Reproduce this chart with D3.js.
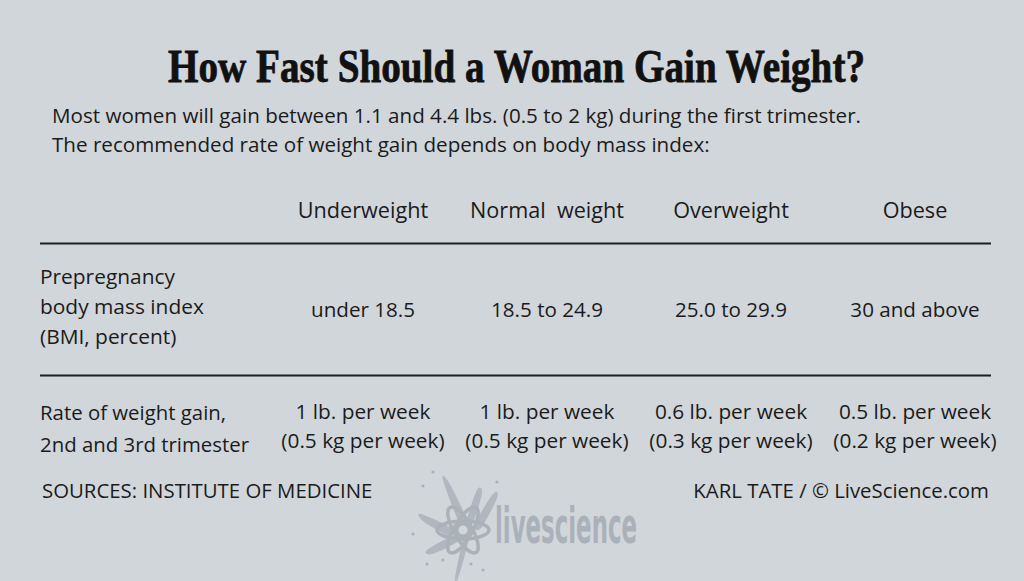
<!DOCTYPE html>
<html>
<head>
<meta charset="utf-8">
<script src="https://cdn.jsdelivr.net/npm/d3@7"></script>
<style>
  html, body { margin: 0; padding: 0; background: #d0d6da; }
  svg text { font-family: "Open Sans", "Noto Sans", sans-serif; fill: #1b1b1b; white-space: pre; }
</style>
</head>
<body>
<svg id="chart"></svg>
<script>
const WIDTH = 1024;
const HEIGHT = 581;

const title = "How Fast Should a Woman Gain Weight?";
const intro = [
  "Most women will gain between 1.1 and 4.4 lbs. (0.5 to 2 kg) during the first trimester.",
  "The recommended rate of weight gain depends on body mass index:"
];
const categories = ["Underweight", "Normal  weight", "Overweight", "Obese"];
const bmiRanges = ["under 18.5", "18.5 to 24.9", "25.0 to 29.9", "30 and above"];
const rateLbs = ["1 lb. per week", "1 lb. per week", "0.6 lb. per week", "0.5 lb. per week"];
const rateKg = ["(0.5 kg per week)", "(0.5 kg per week)", "(0.3 kg per week)", "(0.2 kg per week)"];
const bmiLabel = ["Prepregnancy", "body mass index", "(BMI, percent)"];
const rateLabel = ["Rate of weight gain,", "2nd and 3rd trimester"];
const sourceText = "SOURCES: INSTITUTE OF MEDICINE";
const creditText = "KARL TATE / \u00A9 LiveScience.com";

const svg = d3.select("#chart")
    .attr("width", WIDTH)
    .attr("height", HEIGHT);

svg.append("rect")
    .attr("width", WIDTH)
    .attr("height", HEIGHT)
    .attr("fill", "#d0d6da");

// column positions
const x = d3.scalePoint()
    .domain(categories)
    .range([363, 915]);

const LEFT = 40, RIGHT = 991;

// watermark logo (drawn first, sits behind text)
const logo = svg.append("g")
    .attr("class", "logo")
    .attr("transform", "translate(463,530)")
    .attr("fill", "#aab1b9")
    .attr("stroke", "#aab1b9");

const splat = [
  [[-4,-8],[-20,-50],[-15,-49],[2,-14]],
  [[4,-10],[14,-40],[19,-37],[10,-8]],
  [[-12,-2],[-42,-16],[-40,-9],[-14,6]],
  [[-10,6],[-36,20],[-31,24],[-6,12]],
  [[0,10],[-8,48],[-5,48],[5,12]],
  [[12,-6],[30,-36],[34,-32],[18,-2]]
];
logo.selectAll("path.splat")
  .data(splat)
  .join("path")
    .attr("class", "splat")
    .attr("stroke", "none")
    .attr("opacity", 0.85)
    .attr("d", d => d3.line().curve(d3.curveCardinalClosed)(d));

const drops = [[-40,-44],[-30,-58],[-50,4],[-20,30],[8,34],[20,40],[-36,34],[34,-48]];
logo.selectAll("circle.drop")
  .data(drops)
  .join("circle")
    .attr("class", "drop")
    .attr("stroke", "none")
    .attr("cx", d => d[0])
    .attr("cy", d => d[1])
    .attr("r", 1.6);

logo.selectAll("ellipse.orbit")
  .data([0, 60, 120])
  .join("ellipse")
    .attr("class", "orbit")
    .attr("fill", "none")
    .attr("stroke-width", 3.5)
    .attr("rx", 26)
    .attr("ry", 9)
    .attr("transform", d => `rotate(${d})`);

logo.append("circle")
    .attr("r", 7)
    .attr("fill", "none")
    .attr("stroke-width", 5);

svg.append("text")
    .attr("x", 495)
    .attr("y", 543)
    .attr("textLength", 142)
    .attr("lengthAdjust", "spacingAndGlyphs")
    .style("font-family", "'DejaVu Sans', sans-serif")
    .style("font-weight", "bold")
    .style("font-size", "50px")
    .style("fill", "#aab1b9")
    .text("livescience");

// title
svg.append("text")
    .attr("x", 168)
    .attr("y", 82)
    .attr("textLength", 697)
    .attr("lengthAdjust", "spacingAndGlyphs")
    .style("font-family", "'Liberation Serif', 'DejaVu Serif', serif")
    .style("font-weight", "bold")
    .style("font-size", "47px")
    .style("fill", "#111")
    .style("stroke", "#111")
    .style("stroke-width", 0.8)
    .text(title);

const body = svg.append("g").attr("class", "body");

body.selectAll("text.intro")
  .data(intro)
  .join("text")
    .attr("class", "intro")
    .attr("x", 52)
    .attr("y", (d, i) => 123 + i * 28.5)
    .style("font-size", "20px")
    .text(d => d);

// header row
body.selectAll("text.head")
  .data(categories)
  .join("text")
    .attr("class", "head")
    .attr("x", d => x(d))
    .attr("y", 218)
    .attr("text-anchor", "middle")
    .style("font-size", "21px")
    .text(d => d);

// rules
svg.selectAll("line.rule")
  .data([243.5, 375.5])
  .join("line")
    .attr("class", "rule")
    .attr("x1", LEFT)
    .attr("x2", RIGHT)
    .attr("y1", d => d)
    .attr("y2", d => d)
    .attr("stroke", "#1e1e1e")
    .attr("stroke-width", 2.2);

// BMI row
body.selectAll("text.bmiLabel")
  .data(bmiLabel)
  .join("text")
    .attr("class", "bmiLabel")
    .attr("x", LEFT)
    .attr("y", (d, i) => 284 + i * 30)
    .style("font-size", "20.3px")
    .text(d => d);

body.selectAll("text.bmi")
  .data(bmiRanges)
  .join("text")
    .attr("class", "bmi")
    .attr("x", (d, i) => x(categories[i]))
    .attr("y", 317)
    .attr("text-anchor", "middle")
    .style("font-size", "20px")
    .text(d => d);

// rate row
body.selectAll("text.rateLabel")
  .data(rateLabel)
  .join("text")
    .attr("class", "rateLabel")
    .attr("x", LEFT)
    .attr("y", (d, i) => 420 + i * 32)
    .style("font-size", "19.8px")
    .text(d => d);

body.selectAll("text.lbs")
  .data(rateLbs)
  .join("text")
    .attr("class", "lbs")
    .attr("x", (d, i) => x(categories[i]))
    .attr("y", 419)
    .attr("text-anchor", "middle")
    .style("font-size", "20.2px")
    .text(d => d);

body.selectAll("text.kg")
  .data(rateKg)
  .join("text")
    .attr("class", "kg")
    .attr("x", (d, i) => x(categories[i]))
    .attr("y", 448)
    .attr("text-anchor", "middle")
    .style("font-size", "20.2px")
    .text(d => d);

// footer
body.append("text")
    .attr("x", 42)
    .attr("y", 498)
    .style("font-size", "19.8px")
    .text(sourceText);

// Myriad-style body copy is narrower than the installed sans, so squeeze
// every body text by the ratio measured on the first intro line (809px wide).
const firstLine = body.select("text.intro").node();
const k = 809 / firstLine.getComputedTextLength();
body.selectAll("text").each(function() {
  const w = this.getComputedTextLength();
  d3.select(this)
      .attr("textLength", w * k)
      .attr("lengthAdjust", "spacingAndGlyphs");
});

// credit line: sized instead of squeezed, so its glyph runs stay in order
svg.append("text")
    .attr("x", 989)
    .attr("y", 498)
    .attr("text-anchor", "end")
    .style("font-size", (19.8 * k) + "px")
    .text(creditText);
</script>
</body>
</html>
